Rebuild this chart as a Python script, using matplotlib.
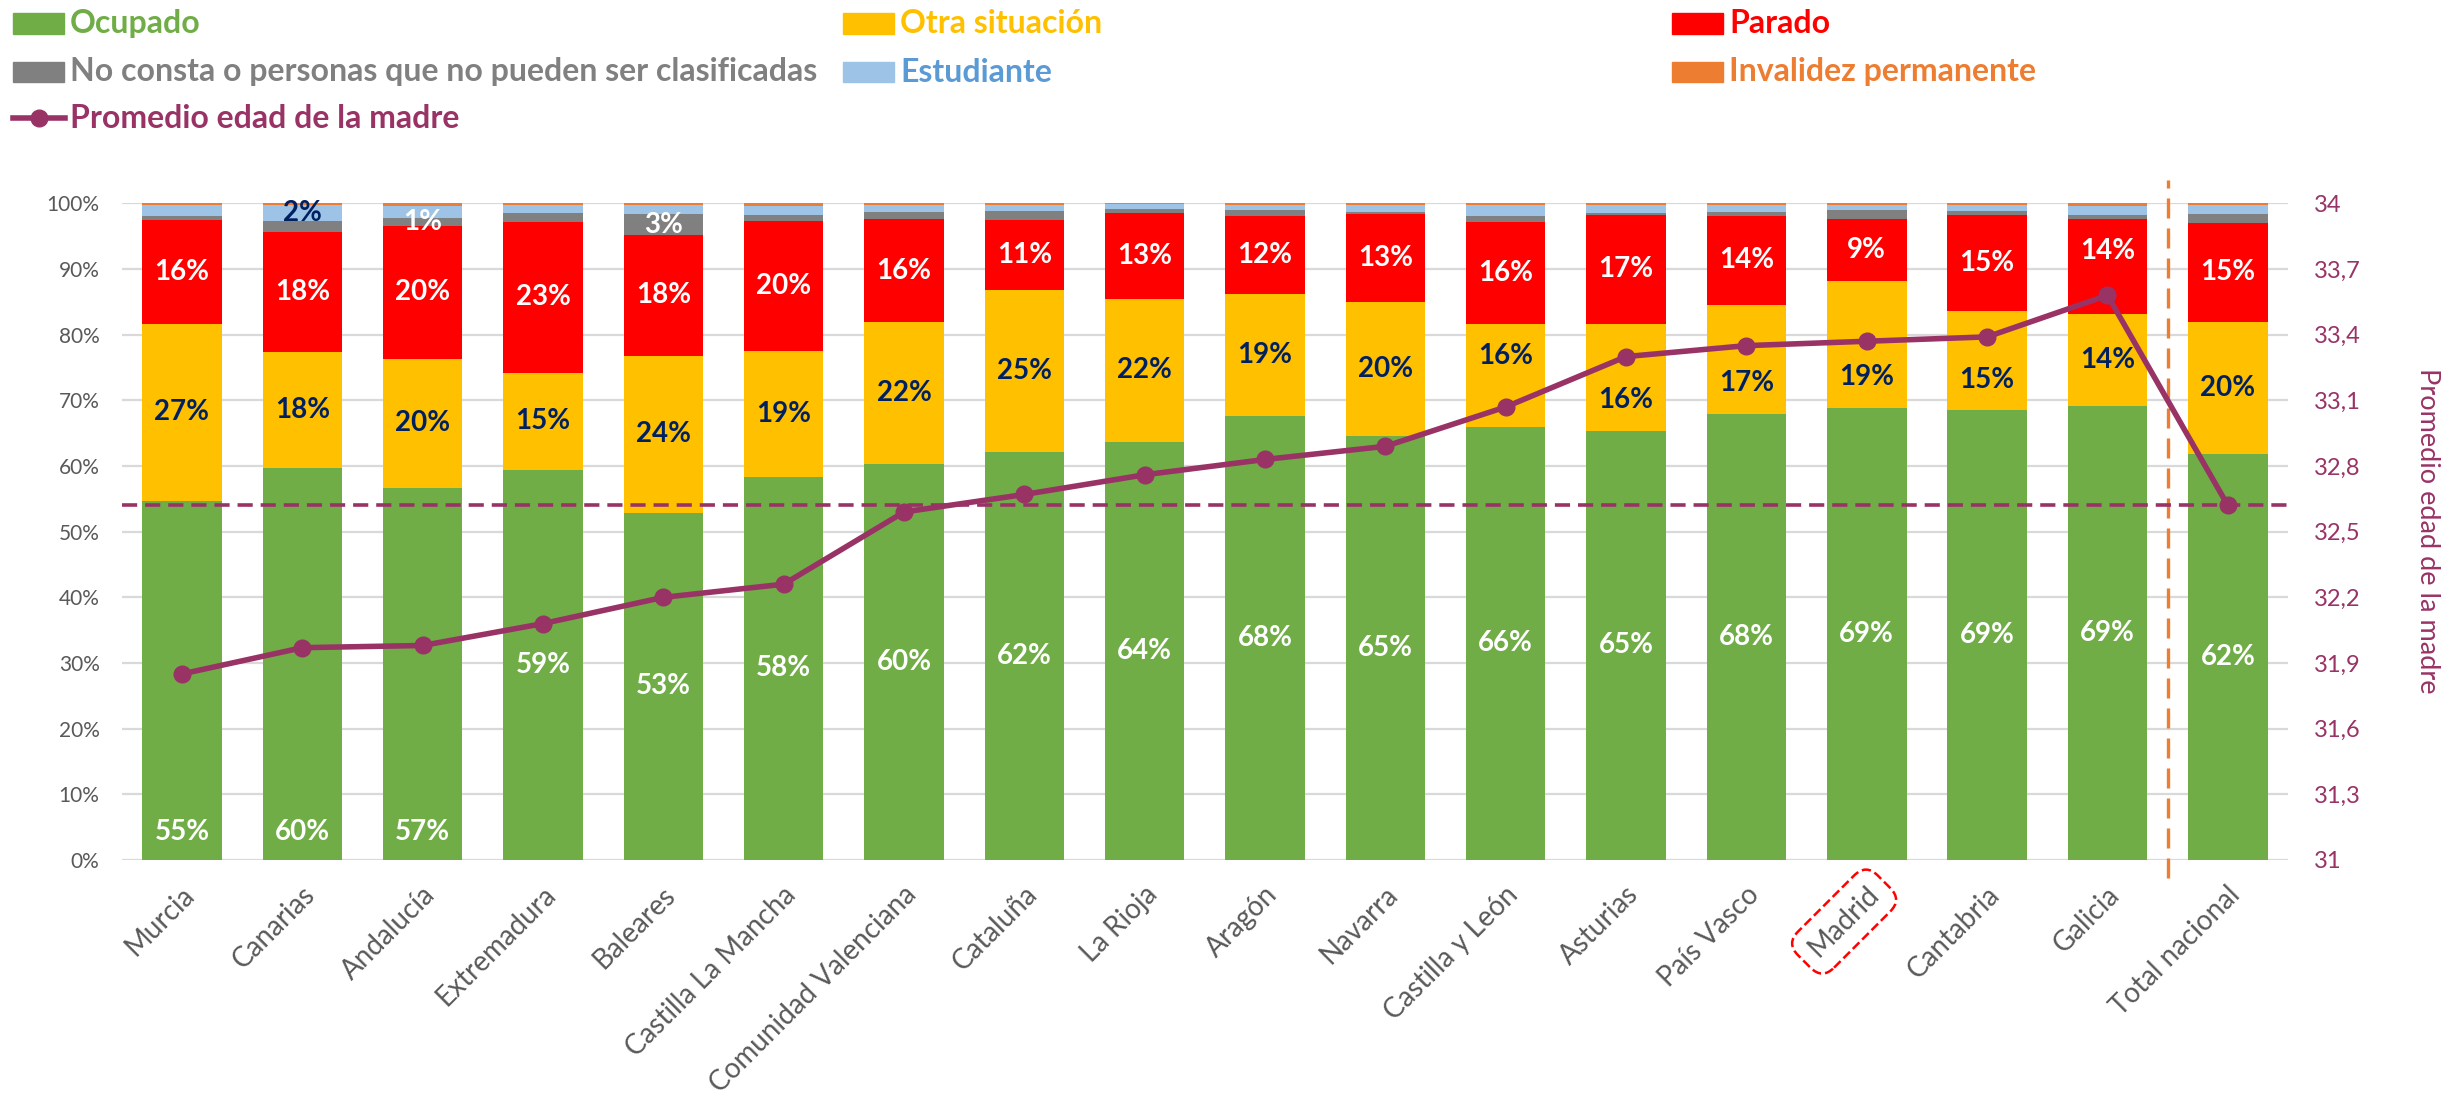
import numpy as np
import matplotlib
matplotlib.use("Agg")
import matplotlib.pyplot as plt
from matplotlib.patches import Rectangle
from matplotlib.lines import Line2D
from matplotlib.transforms import ScaledTranslation

plt.rcParams['font.family'] = ['Lato', 'DejaVu Sans']

# datos (% de madres por situación laboral y edad media)
regiones = ["Murcia", "Canarias", "Andalucía", "Extremadura", "Baleares",
            "Castilla La Mancha", "Comunidad Valenciana", "Cataluña", "La Rioja",
            "Aragón", "Navarra", "Castilla y León", "Asturias", "País Vasco",
            "Madrid", "Cantabria", "Galicia", "Total nacional"]
ocupado = [54.7, 59.7, 56.7, 59.4, 52.9, 58.4, 60.3, 62.2, 63.7,
           67.6, 64.6, 66.0, 65.4, 67.9, 68.9, 68.6, 69.1, 61.8]
otra = [27.0, 17.7, 19.6, 14.8, 23.9, 19.1, 21.6, 24.6, 21.8,
        18.6, 20.4, 15.6, 16.3, 16.6, 19.3, 15.0, 14.1, 20.2]
parado = [15.8, 18.3, 20.3, 23.0, 18.4, 19.8, 15.7, 10.6, 13.0,
          11.9, 13.4, 15.6, 16.6, 13.6, 9.45, 14.6, 14.4, 15.0]
no_consta = [0.6, 1.6, 1.1, 1.35, 3.15, 0.9, 1.05, 1.45, 0.6,
             0.85, 0.3, 0.9, 0.25, 0.6, 1.3, 0.6, 0.6, 1.45]
estudiante = [1.6, 2.4, 1.9, 1.15, 1.45, 1.4, 1.05, 0.85, 0.75,
              0.8, 1.1, 1.6, 1.2, 1.1, 0.85, 1.0, 1.45, 1.3]
invalidez = [0.3, 0.3, 0.4, 0.3, 0.2, 0.4, 0.3, 0.3, 0.15,
             0.25, 0.2, 0.3, 0.25, 0.2, 0.2, 0.2, 0.35, 0.25]
edad_madre = [31.85, 31.97, 31.98, 32.08, 32.20, 32.26, 32.59, 32.67, 32.76,
              32.83, 32.89, 33.07, 33.30, 33.35, 33.37, 33.39, 33.58, 32.62]

verde = '#70AD47'
amarillo = '#FFC000'
rojo = '#FF0000'
gris = '#808080'
azul = '#9DC3E6'
naranja = '#ED7D31'
morado = '#993366'
marino = '#002060'

series = [
    ("Ocupado", ocupado, verde, 'white'),
    ("Otra situación", otra, amarillo, marino),
    ("Parado", parado, rojo, 'white'),
    ("No consta o personas que no pueden ser clasificadas", no_consta, gris, 'white'),
    ("Estudiante", estudiante, azul, marino),
    ("Invalidez permanente", invalidez, naranja, None),
]
# qué barras llevan etiqueta en las series pequeñas
etiquetas_pequenas = {
    "No consta o personas que no pueden ser clasificadas": ["Andalucía", "Baleares"],
    "Estudiante": ["Canarias"],
}
# etiquetas movidas a mano (como en el original)
etiqueta_abajo = ["Murcia", "Canarias", "Andalucía"]
desplaza = {("Otra situación", "Castilla y León"): 3.0,
            ("Otra situación", "Asturias"): -3.5,
            ("Otra situación", "País Vasco"): -3.6,
            ("Otra situación", "Madrid"): -5.0,
            ("Otra situación", "Cantabria"): -3.0,
            ("Parado", "Galicia"): 2.3}

W, H = 2446, 1101
fig = plt.figure(figsize=(W / 100, H / 100), dpi=100)
ax = fig.add_axes([0.0498, 0.2189, 0.8856, 0.5964])

x = np.arange(len(regiones))
base = np.zeros(len(regiones))
for nombre, vals, color, col_txt in series:
    vals = np.array(vals)
    ax.bar(x, vals, width=0.66, bottom=base, color=color, zorder=2)
    if col_txt is not None:
        for i, reg in enumerate(regiones):
            if nombre in etiquetas_pequenas and reg not in etiquetas_pequenas[nombre]:
                continue
            y = base[i] + vals[i] / 2 + desplaza.get((nombre, reg), 0)
            if nombre == "Ocupado" and reg in etiqueta_abajo:
                y = 4.3
            ax.text(x[i], y, f"{round(vals[i]):.0f}%", ha='center', va='center',
                    fontsize=20, fontweight='bold', color=col_txt, zorder=3)
    base += vals

ax.set_xlim(-0.5, len(regiones) - 0.5)
ax.set_ylim(0, 100)
ax.set_yticks(np.arange(0, 101, 10))
ax.set_yticklabels([f"{t}%" for t in range(0, 101, 10)], fontsize=15, color='#595959')
ax.yaxis.grid(True, color='#D9D9D9', lw=1.6)
ax.set_axisbelow(True)
ax.tick_params(axis='y', length=0, pad=16)
for s in ax.spines.values():
    s.set_visible(False)

ax.set_xticks(x)
ax.set_xticklabels(regiones, rotation=45, ha='right', va='center',
                   rotation_mode='anchor', fontsize=20, color='#595959')
ax.tick_params(axis='x', length=0, pad=22)
off = ScaledTranslation(6 / 72, 0, fig.dpi_scale_trans)
for lbl in ax.get_xticklabels():
    lbl.set_transform(lbl.get_transform() + off)
    if lbl.get_text() == "Madrid":
        lbl.set_bbox(dict(boxstyle='round,pad=0.45,rounding_size=0.6', fc='none',
                          ec='red', ls='--', lw=1.8))

# separación del total nacional
ax.plot([len(regiones) - 1.5] * 2, [-2.7, 103.5], color=naranja, lw=2.4,
        ls=(0, (6, 3)), clip_on=False, zorder=3)

ax2 = ax.twinx()
ax2.set_ylim(31, 34)
tk = np.round(np.arange(31, 34.01, 0.3), 1)
ax2.set_yticks(tk)
ax2.set_yticklabels([('%g' % t).replace('.', ',') for t in tk], fontsize=17, color=morado)
ax2.tick_params(axis='y', length=0, pad=19)
for s in ax2.spines.values():
    s.set_visible(False)
ax2.axhline(edad_madre[-1], color=morado, lw=2.6, ls=(0, (4.2, 2.2)), zorder=4)
ax2.plot(x, edad_madre, color=morado, lw=4, marker='o', ms=12, zorder=5)

fig.text(2427 / W, 1 - 531 / H, "Promedio edad de la madre", rotation=-90,
         ha='center', va='center', fontsize=19.5, color=morado)

# leyenda manual en tres columnas
col_x = [13, 843, 1672]
fila_y = [23.5, 72, 118]
textos_leg = [
    ("Ocupado", verde, verde), ("Otra situación", amarillo, amarillo), ("Parado", rojo, rojo),
    ("No consta o personas que no pueden ser clasificadas", gris, gris),
    ("Estudiante", azul, '#5B9BD5'), ("Invalidez permanente", naranja, naranja),
]
for k, (txt, c_box, c_txt) in enumerate(textos_leg):
    cx = col_x[k % 3]
    cy = fila_y[k // 3]
    fig.add_artist(Rectangle((cx / W, 1 - (cy + 10) / H), 51 / W, 20 / H,
                             transform=fig.transFigure, color=c_box))
    fig.text((cx + 57) / W, 1 - cy / H, txt, ha='left', va='center',
             fontsize=23, fontweight='bold', color=c_txt)
cy = fila_y[2]
fig.add_artist(Line2D([13 / W, 65 / W], [1 - cy / H] * 2, transform=fig.transFigure,
                      color=morado, lw=4))
fig.add_artist(Line2D([39 / W], [1 - cy / H], transform=fig.transFigure,
                      color=morado, marker='o', ms=12))
fig.text(70 / W, 1 - cy / H, "Promedio edad de la madre", ha='left', va='center',
         fontsize=23, fontweight='bold', color=morado)

fig.savefig("out.png", dpi=100)
